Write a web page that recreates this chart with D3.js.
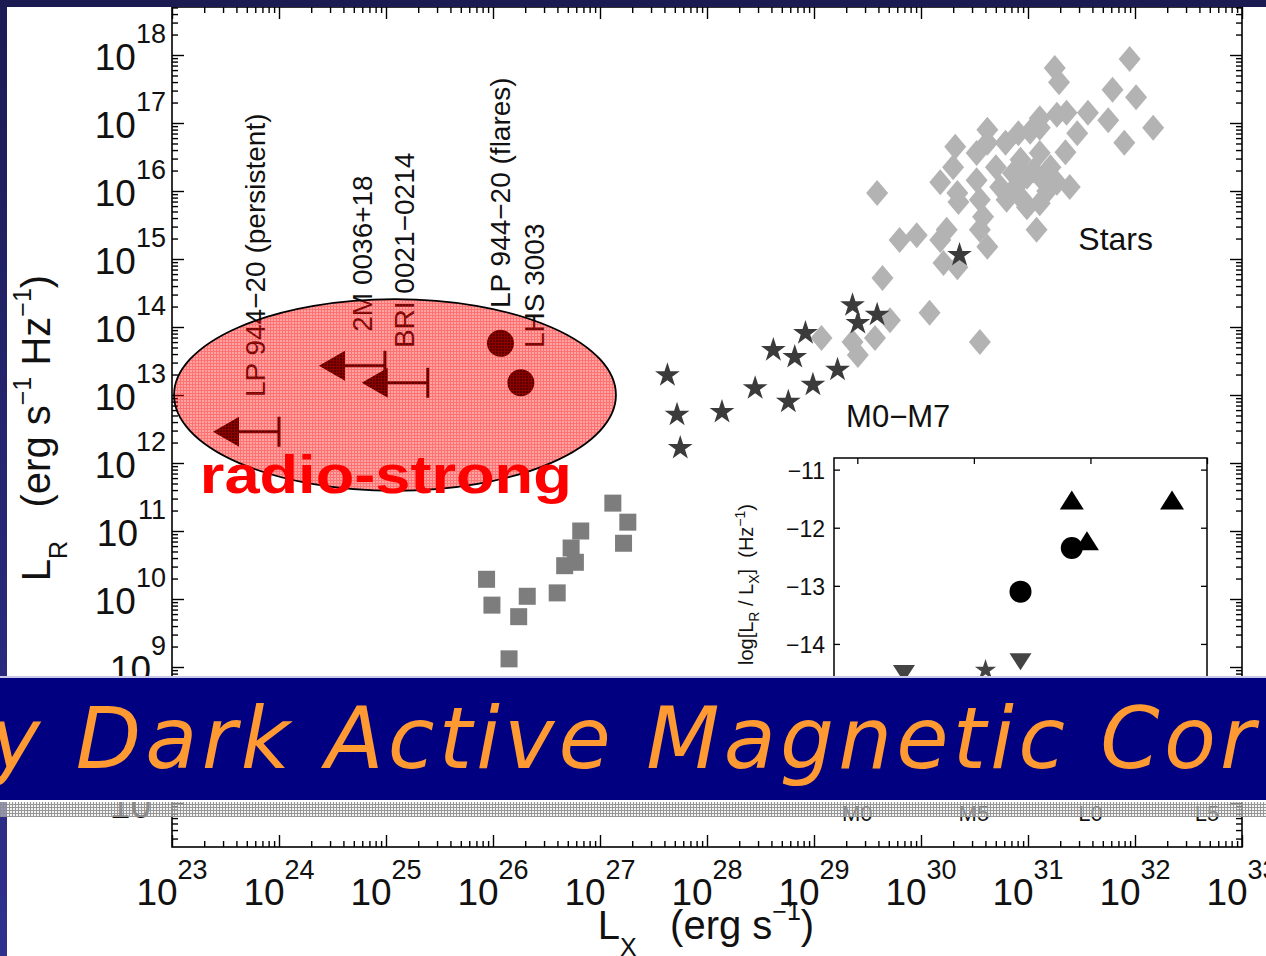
<!DOCTYPE html>
<html>
<head>
<meta charset="utf-8">
<script src="https://cdn.jsdelivr.net/npm/d3@7"></script>
<style>
html,body{margin:0;padding:0;background:#fff;overflow:hidden}
text{font-family:"Liberation Sans",Arial,Helvetica,sans-serif}
</style>
</head>
<body>
<svg id="chart" width="1266" height="956"></svg>
<script>
// ---- data (log10 of luminosities) ----
// active field stars: [log Lx, log LR]
const fieldStars = [
  [31.95,17.94],[31.25,17.81],[31.29,17.60],[31.79,17.49],[32.01,17.38],[32.17,16.93],
  [31.90,16.71],[31.75,17.04],[31.56,17.15],[31.46,16.85],[31.36,17.15],[31.27,17.12],
  [31.11,17.07],[31.11,16.93],[31.02,16.87],[30.91,16.85],[30.79,16.71],[30.62,16.90],
  [30.62,16.71],[30.32,16.65],[30.52,16.56],[31.35,16.57],[31.21,16.35],[31.11,16.56],
  [30.93,16.46],[30.86,16.26],[30.99,16.21],[31.14,16.16],[31.27,16.12],[31.39,16.06],
  [30.74,16.06],[30.80,15.87],[30.95,15.87],[31.11,15.82],[30.18,16.13],[30.30,16.35],
  [30.34,15.97],[30.52,16.16],[30.55,15.87],[30.58,15.62],[30.35,15.84],[30.24,15.43],
  [30.18,15.28],[30.55,15.43],[30.62,15.18],[31.08,15.43],[30.99,15.76],[29.59,15.97],
  [29.80,15.28],[29.96,15.35],[29.64,14.72],[30.21,14.94],[30.08,14.21],[30.34,14.88],
  [30.55,13.78],[29.07,13.84],[29.36,13.78],[29.41,13.59],[29.57,13.84],[29.71,14.10],
  [31.05,16.30],[30.88,16.05],[31.18,16.00],[30.70,16.35]
];
// M0-M7 dwarfs
const mDwarfs = [
  [27.63,13.29],[27.72,12.71],[27.75,12.22],[28.14,12.75],[28.45,13.10],[28.62,13.66],
  [28.76,12.90],[28.82,13.56],[28.92,13.91],[28.99,13.15],[29.22,13.37],[29.36,14.32],
  [29.41,14.06],[29.59,14.18],[30.36,15.06]
];
// solar flares
const solarFlares = [
  [27.12,11.41],[27.26,11.13],[27.22,10.82],[26.82,11.00],[26.73,10.75],[26.77,10.54],
  [26.67,10.49],[26.60,10.09],[26.32,10.04],[25.94,10.29],[25.99,9.91],[26.24,9.74],
  [26.15,9.12]
];
// ultracool dwarfs: X-ray upper limits and detections
const upperLimits = [[24.00,12.46],[24.99,13.43],[25.39,13.18]];
const detections = [[26.07,13.76],[26.26,13.18]];
const sourceNames = ["LP 944−20 (persistent)","2M 0036+18","BRI 0021−0214","LP 944−20 (flares)","LHS 3003"];
const sourceNameAt = [[23.87,12.97],[24.87,13.93],[25.26,13.69],[26.16,14.28],[26.48,13.69]];
const groupNames = ["Stars","M0−M7"];
const groupNameAt = [[31.47,15.13],[29.30,12.53]];
const xTickExp = d3.range(23,34);
const yTickExp = [7,9,10,11,12,13,14,15,16,17,18];

// inset: log(LR/LX) vs spectral type
const insetTypeLabels = ["M0","M5","L0","L5"];
const insetTypeValues = [0,5,10,15];
const insetYTicks = [-11,-12,-13,-14,-15,-16];
const insetYLabels = [-11,-12,-13,-14];
const insetUp = [[9.2,-11.55],[13.5,-11.55],[9.85,-12.25]];
const insetDots = [[9.2,-12.35],[7.0,-13.1]];
const insetDown = [[7.0,-14.3],[2.0,-14.5]];
const insetStars = [[5.5,-14.45]];

const P = v => Math.pow(10, v);
const svg = d3.select("#chart");
const defs = svg.append("defs");

// ---- scales ----
const x = d3.scaleLog().domain([1e23,1e33]).range([172,1242]);
const y = d3.scaleLog().domain([P(6.353),P(18.706)]).range([847,7]);
const X = v => x(P(v)), Y = v => y(P(v));

// ---- patterns ----
const red = defs.append("pattern").attr("id","redGrid").attr("patternUnits","userSpaceOnUse")
  .attr("width",3).attr("height",3);
red.append("rect").attr("width",3).attr("height",3).attr("fill","rgba(255,0,0,0.36)");
red.append("rect").attr("width",3).attr("height",1).attr("fill","rgba(255,0,0,0.30)");
red.append("rect").attr("width",1).attr("height",2).attr("y",1).attr("fill","rgba(255,0,0,0.30)");

const grey = defs.append("pattern").attr("id","greyGrid").attr("patternUnits","userSpaceOnUse")
  .attr("width",3).attr("height",3);
grey.append("rect").attr("width",3).attr("height",3).attr("fill","rgba(235,235,235,0.55)");
grey.append("rect").attr("width",3).attr("height",1).attr("fill","rgba(140,140,140,0.9)");
grey.append("rect").attr("width",1).attr("height",2).attr("y",1).attr("fill","rgba(140,140,140,0.9)");

const grad = defs.append("linearGradient").attr("id","sideGrad").attr("x1",0).attr("y1",0).attr("x2",0).attr("y2",1);
grad.append("stop").attr("offset","0%").attr("stop-color","#1b1b55");
grad.append("stop").attr("offset","100%").attr("stop-color","#30308f");

svg.append("rect").attr("width",1266).attr("height",956).attr("fill","#fff");

// ---- main axes ----
const plot = svg.append("g");
const majX = xTickExp.map(P);
const minX = d3.range(23,33).flatMap(e => d3.range(2,10).map(k => k*P(e)));
const majY = d3.range(7,19).map(P);
const minY = d3.range(6,19).flatMap(e => d3.range(2,10).map(k => k*P(e))).filter(v => v>=P(6.353) && v<=P(18.706));

function tickGroup(axis, values, size, tr){
  plot.append("g").attr("transform",tr)
    .call(axis.tickValues(values).tickSize(size).tickSizeOuter(0).tickFormat(""))
    .call(g => g.select(".domain").remove())
    .selectAll("line").attr("stroke","#000").attr("stroke-width",1.4);
}
tickGroup(d3.axisBottom(x), majX, -12, "translate(0,847)");
tickGroup(d3.axisBottom(x), minX, -6, "translate(0,847)");
tickGroup(d3.axisTop(x), majX, -12, "translate(0,7)");
tickGroup(d3.axisTop(x), minX, -6, "translate(0,7)");
tickGroup(d3.axisLeft(y), majY, -12, "translate(172,0)");
tickGroup(d3.axisLeft(y), minY, -6, "translate(172,0)");
tickGroup(d3.axisRight(y), majY, -12, "translate(1242,0)");
tickGroup(d3.axisRight(y), minY, -6, "translate(1242,0)");
plot.append("rect").attr("x",172).attr("y",7).attr("width",1070).attr("height",840)
  .attr("fill","none").attr("stroke","#000").attr("stroke-width",1.6);

// tick labels
xTickExp.forEach(e => {
  const t = plot.append("text").attr("x",x(P(e))).attr("y",905).attr("text-anchor","middle").attr("fill","#111");
  t.append("tspan").attr("font-size",37).text("10");
  t.append("tspan").attr("font-size",27).attr("dy",-26).text(e);
});
yTickExp.forEach(e => {
  const t = plot.append("text").attr("x",166).attr("y",y(P(e))+15).attr("text-anchor","end").attr("fill","#111");
  t.append("tspan").attr("font-size",37).text("10");
  t.append("tspan").attr("font-size",27).attr("dy",-27).text(e);
});

// axis titles
const xl = plot.append("text").attr("x",706).attr("y",939).attr("text-anchor","middle")
  .attr("fill","#111").style("white-space","pre");
xl.append("tspan").attr("font-size",40).text("L");
xl.append("tspan").attr("font-size",25).attr("dy",17).text("X");
xl.append("tspan").attr("font-size",40).attr("dy",-17).text("   (erg s");
xl.append("tspan").attr("font-size",25).attr("dy",-19).text("−1");
xl.append("tspan").attr("font-size",40).attr("dy",19).text(")");

const yl = plot.append("text").attr("transform","translate(50,428) rotate(-90)").attr("text-anchor","middle")
  .attr("fill","#111").style("white-space","pre");
yl.append("tspan").attr("font-size",40).text("L");
yl.append("tspan").attr("font-size",25).attr("dy",17).text("R");
yl.append("tspan").attr("font-size",40).attr("dy",-17).text("   (erg s");
yl.append("tspan").attr("font-size",25).attr("dy",-19).text("−1");
yl.append("tspan").attr("font-size",40).attr("dy",19).text(" Hz");
yl.append("tspan").attr("font-size",25).attr("dy",-19).text("−1");
yl.append("tspan").attr("font-size",40).attr("dy",19).text(")");

// ---- markers ----
const diamond = "M0,-13L11,0L0,13L-11,0Z";
plot.append("g").selectAll("path").data(fieldStars).join("path")
  .attr("d",diamond).attr("transform",d => `translate(${X(d[0])},${Y(d[1])})`).attr("fill","#b3b3b3");

plot.append("g").selectAll("rect").data(solarFlares).join("rect")
  .attr("x",d => X(d[0])-8.5).attr("y",d => Y(d[1])-8.5).attr("width",17).attr("height",17).attr("fill","#7d7d7d");

const star = d3.symbol(d3.symbolStar, 190);
plot.append("g").selectAll("path").data(mDwarfs).join("path")
  .attr("d",star).attr("transform",d => `translate(${X(d[0])},${Y(d[1])})`).attr("fill","#3b3b3b");

// upper limits (arrow pointing to lower Lx)
const ul = plot.append("g").selectAll("g").data(upperLimits).join("g")
  .attr("transform",d => `translate(${X(d[0])},${Y(d[1])})`);
ul.append("line").attr("x1",0).attr("x2",0).attr("y1",-15).attr("y2",15).attr("stroke","#000").attr("stroke-width",3);
ul.append("line").attr("x1",0).attr("x2",-42).attr("y1",0).attr("y2",0).attr("stroke","#000").attr("stroke-width",3);
ul.append("path").attr("d","M-66,0L-40,-15L-40,15Z").attr("fill","#000");

plot.append("g").selectAll("circle").data(detections).join("circle")
  .attr("cx",d => X(d[0])).attr("cy",d => Y(d[1])).attr("r",13.5).attr("fill","#000");

// source names
plot.append("g").selectAll("text").data(sourceNames).join("text")
  .attr("transform",(d,i) => `translate(${X(sourceNameAt[i][0])},${Y(sourceNameAt[i][1])}) rotate(-90)`)
  .attr("font-size",28).attr("fill","#111").text(d => d);

plot.append("g").selectAll("text").data(groupNames).join("text")
  .attr("x",(d,i) => X(groupNameAt[i][0])).attr("y",(d,i) => Y(groupNameAt[i][1]))
  .attr("font-size",(d,i) => i===0 ? 32 : 31).attr("fill","#111").text(d => d);

// radio-strong region
const ec = [25.084, 13.0];
svg.append("ellipse").attr("cx",X(ec[0])).attr("cy",Y(ec[1]))
  .attr("rx",X(ec[0]+2.065)-X(ec[0])).attr("ry",Y(ec[1]-1.41)-Y(ec[1]))
  .attr("fill","url(#redGrid)").attr("stroke","#000").attr("stroke-width",1.8);
svg.append("text").attr("x",X(23.26)).attr("y",Y(11.56)).attr("font-size",54).attr("font-weight","bold")
  .attr("fill","#ff0000").attr("textLength",372).attr("lengthAdjust","spacingAndGlyphs").text("radio-strong");

// ---- inset ----
const xi = d3.scaleLinear().domain([-1,15]).range([834,1207]);
const yi = d3.scaleLinear().domain([-16.6,-10.8]).range([795,458]);
const inset = svg.append("g");
inset.append("rect").attr("x",834).attr("y",458).attr("width",373).attr("height",337).attr("fill","#fff");
function insetTicks(axis, values, size, tr){
  inset.append("g").attr("transform",tr)
    .call(axis.tickValues(values).tickSize(size).tickSizeOuter(0).tickFormat(""))
    .call(g => g.select(".domain").remove())
    .selectAll("line").attr("stroke","#000").attr("stroke-width",1.3);
}
insetTicks(d3.axisTop(xi), insetTypeValues, -6, "translate(0,458)");
insetTicks(d3.axisBottom(xi), insetTypeValues, -6, "translate(0,795)");
insetTicks(d3.axisLeft(yi), insetYTicks, -6, "translate(834,0)");
insetTicks(d3.axisRight(yi), insetYTicks, -6, "translate(1207,0)");
inset.append("rect").attr("x",834).attr("y",458).attr("width",373).attr("height",337)
  .attr("fill","none").attr("stroke","#000").attr("stroke-width",1.5);
inset.append("g").selectAll("text").data(insetYLabels).join("text")
  .attr("x",825).attr("y",d => yi(d)+9).attr("text-anchor","end").attr("font-size",23).attr("fill","#111")
  .text(d => "−" + Math.abs(d));
inset.append("g").selectAll("text").data(insetTypeLabels).join("text")
  .attr("x",(d,i) => xi(insetTypeValues[i])).attr("y",821).attr("text-anchor","middle")
  .attr("font-size",22).attr("fill","#111").text(d => d);
const il = inset.append("text").attr("transform","translate(753,504) rotate(-90)").attr("text-anchor","end")
  .attr("fill","#111").style("white-space","pre");
il.append("tspan").attr("font-size",20).text("log[L");
il.append("tspan").attr("font-size",14).attr("dy",6).text("R");
il.append("tspan").attr("font-size",20).attr("dy",-6).text(" / L");
il.append("tspan").attr("font-size",14).attr("dy",6).text("X");
il.append("tspan").attr("font-size",20).attr("dy",-6).text("]  (Hz");
il.append("tspan").attr("font-size",14).attr("dy",-8).text("−1");
il.append("tspan").attr("font-size",20).attr("dy",8).text(")");

inset.append("g").selectAll("path").data(insetUp).join("path")
  .attr("d","M0,-11L12,8L-12,8Z").attr("transform",d => `translate(${xi(d[0])},${yi(d[1])})`).attr("fill","#000");
inset.append("g").selectAll("path").data(insetDown).join("path")
  .attr("d","M0,9L11,-8L-11,-8Z").attr("transform",d => `translate(${xi(d[0])},${yi(d[1])})`).attr("fill","#444");
inset.append("g").selectAll("circle").data(insetDots).join("circle")
  .attr("cx",d => xi(d[0])).attr("cy",d => yi(d[1])).attr("r",11).attr("fill","#000");
inset.append("g").selectAll("path").data(insetStars).join("path")
  .attr("d",d3.symbol(d3.symbolStar,140)).attr("transform",d => `translate(${xi(d[0])},${yi(d[1])})`).attr("fill","#444");

// ---- slide frame ----
svg.append("rect").attr("x",0).attr("y",0).attr("width",1266).attr("height",7).attr("fill","#1b1b52");
svg.append("rect").attr("x",0).attr("y",7).attr("width",7).attr("height",949).attr("fill","url(#sideGrad)");

// title banner
svg.append("rect").attr("x",0).attr("y",676).attr("width",1266).attr("height",2).attr("fill","#c8c8e6");
svg.append("rect").attr("x",0).attr("y",678).attr("width",1266).attr("height",122).attr("fill","#000080");
svg.append("rect").attr("x",0).attr("y",800).attr("width",1266).attr("height",2).attr("fill","#ffffff");
svg.append("text").attr("x",-10).attr("y",768).attr("font-size",85).attr("font-style","italic")
  .style("font-family","'DejaVu Sans',Verdana,sans-serif").attr("letter-spacing",4.2)
  .attr("fill","#ff9a33").text("y Dark Active Magnetic Cor");
svg.append("rect").attr("x",0).attr("y",802).attr("width",1266).attr("height",15).attr("fill","url(#greyGrid)");
</script>
</body>
</html>
